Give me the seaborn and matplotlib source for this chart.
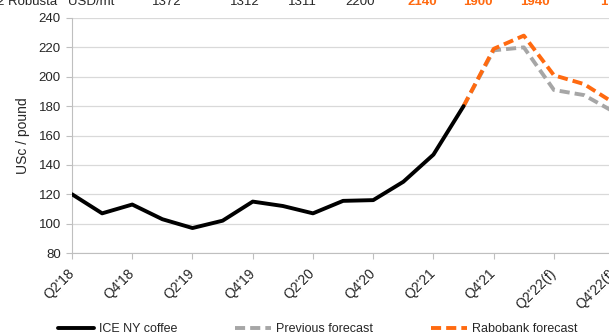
import numpy as np
import pandas as pd
import matplotlib
matplotlib.use("Agg")
import matplotlib.pyplot as plt
import seaborn as sns
from matplotlib.lines import Line2D

# quarters on the x axis (labels shown every second quarter)
quarters = ["Q2'18", "Q3'18", "Q4'18", "Q1'19", "Q2'19", "Q3'19", "Q4'19",
            "Q1'20", "Q2'20", "Q3'20", "Q4'20", "Q1'21", "Q2'21", "Q3'21",
            "Q4'21", "Q1'22(f)", "Q2'22(f)", "Q3'22(f)", "Q4'22(f)"]

# ICE NY coffee, USc/pound (actuals up to Q3'21)
ice_coffee = [120, 107, 113, 103, 97, 102, 115, 112, 107, 115.5, 116, 128.5, 147, 180]

# forecasts from Q3'21 onwards
forecast_quarters = ["Q3'21", "Q4'21", "Q1'22(f)", "Q2'22(f)", "Q3'22(f)", "Q4'22(f)"]
previous_forecast = [180, 218, 220, 191, 187.5, 176]
rabobank_forecast = [180, 219, 228, 201, 195, 182]

# clipped table row above the chart
table_row = ["2 Robusta", "USD/mt", "1372", "1312", "1311", "2200", "2140", "1900", "1940", "1"]
table_x = [57, 68, 152, 230, 288, 345, 408, 463, 520, 600]
table_orange = [False, False, False, False, False, False, True, True, True, True]

pos = {q: i for i, q in enumerate(quarters)}
df_ice = pd.DataFrame({"x": [pos[q] for q in quarters[:len(ice_coffee)]], "y": ice_coffee})
df_prev = pd.DataFrame({"x": [pos[q] for q in forecast_quarters], "y": previous_forecast})
df_rabo = pd.DataFrame({"x": [pos[q] for q in forecast_quarters], "y": rabobank_forecast})

sns.set_style("white")
plt.rcParams['font.family'] = ['Liberation Sans', 'DejaVu Sans']

W, H = 609, 336
fig = plt.figure(figsize=(W / 100, H / 100), dpi=100)
ax = fig.add_axes([72 / W, 1 - 253 / H, 1 - 72 / W + 0.01, (253 - 18) / H])

black = "#000000"
grey = "#A6A6A6"
orange = "#FF6A10"
lw = 2.8
dash = [2.6, 1.3]

sns.lineplot(data=df_prev, x="x", y="y", ax=ax, color=grey, linewidth=lw, zorder=3)
ax.lines[-1].set_dashes(dash)
sns.lineplot(data=df_rabo, x="x", y="y", ax=ax, color=orange, linewidth=lw, zorder=4)
ax.lines[-1].set_dashes(dash)
sns.lineplot(data=df_ice, x="x", y="y", ax=ax, color=black, linewidth=lw, zorder=5)

ax.set_xlim(0, 18.03)
ax.set_ylim(80, 240)
ax.set_yticks(np.arange(80, 241, 20))
ax.set_xticks(range(0, len(quarters), 2))
ax.set_xticklabels(quarters[::2], rotation=45, ha="right", va="center",
                   rotation_mode="anchor", fontsize=10, color="#262626")
ax.tick_params(axis="y", labelsize=9.5, labelcolor="#262626", length=4, color="#BFBFBF",
               width=0.8, direction="out", left=True, pad=4)
ax.tick_params(axis="x", length=4, color="#BFBFBF", width=0.8, direction="out",
               bottom=True, pad=9)
ax.set_xlabel("")
ax.set_ylabel("USc / pound", fontsize=10, color="#262626", labelpad=6)

ax.grid(axis="y", color="#D9D9D9", linewidth=0.9)
ax.set_axisbelow(True)
for s in ["top", "right"]:
    ax.spines[s].set_visible(False)
for s in ["left", "bottom"]:
    ax.spines[s].set_color("#BFBFBF")
    ax.spines[s].set_linewidth(0.8)

handles = [
    Line2D([], [], color=black, linewidth=lw),
    Line2D([], [], color=grey, linewidth=lw, dashes=dash),
    Line2D([], [], color=orange, linewidth=lw, dashes=dash),
]
fig.legend(handles, ["ICE NY coffee", "Previous forecast", "Rabobank forecast"],
           loc="center left", bbox_to_anchor=(58 / W, 1 - 329 / H), ncol=3,
           frameon=False, fontsize=9, handlelength=2.9, handletextpad=0.4,
           columnspacing=4.6, borderaxespad=0, borderpad=0)

for txt, x, org in zip(table_row, table_x, table_orange):
    fig.text(x / W, 1 - 5 / H, txt, fontsize=9.5, va="baseline",
             ha="right" if txt == "2 Robusta" else "left",
             color=orange if org else "#262626", fontweight="bold" if org else "normal")

fig.savefig("out.png", dpi=100)
